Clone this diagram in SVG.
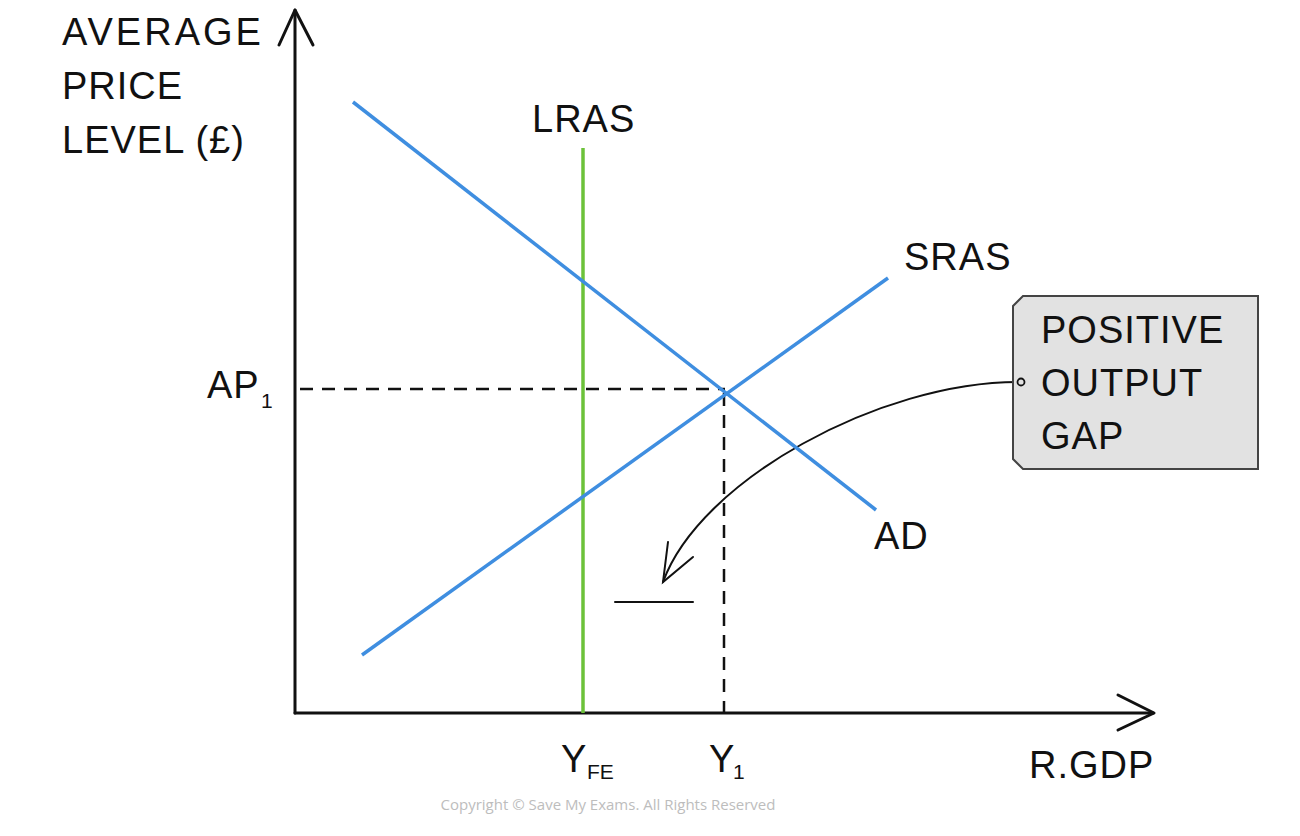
<svg xmlns="http://www.w3.org/2000/svg" width="1300" height="836" viewBox="0 0 1300 836">
<style>
.t{font-family:"Liberation Sans",Arial,sans-serif;fill:#111;font-size:38px;letter-spacing:1px}
.sub{font-family:"Liberation Sans",Arial,sans-serif;fill:#111;font-size:21px}
.ax{stroke:#111;stroke-width:3;fill:none;stroke-linecap:round;stroke-linejoin:round}
.dash{stroke:#111;stroke-width:2.5;stroke-dasharray:13 9;fill:none}
.blue{stroke:#3f8ee0;stroke-width:3.5;fill:none}
.thin{stroke:#111;stroke-width:2;fill:none;stroke-linecap:round}
</style>
<rect width="1300" height="836" fill="#fff"/>
<g id="axes">
<path class="ax" d="M295,713 V10"/>
<path class="ax" d="M279,45 L295,10 L313,45"/>
<path class="ax" d="M295,713 H1153"/>
<path class="ax" d="M1118,695 L1154,713 L1118,730"/>
<text class="t" x="62" y="45" style="letter-spacing:3px">AVERAGE</text>
<text class="t" x="62" y="99">PRICE</text>
<text class="t" x="62" y="153">LEVEL (£)</text>
<text class="t" x="1029" y="778">R.GDP</text>
</g>
<g id="connectors">
<path class="dash" d="M300,389 H725"/>
<path class="dash" d="M724,393 V713"/>
<path class="thin" d="M1018,382 C880,382 700,480 663,582"/>
<path class="thin" d="M668,542 L663,582 L693,557"/>
<path class="thin" d="M615,602 H693"/>
</g>
<g id="lras">
<path d="M583,148 V713" stroke="#6cc23a" stroke-width="3.5" fill="none"/>
<text class="t" x="532" y="132">LRAS</text>
</g>
<g id="ad">
<path class="blue" d="M353,102 L876,510"/>
<text class="t" x="874" y="549">AD</text>
</g>
<g id="sras">
<path class="blue" d="M362,655 L888,278"/>
<text class="t" x="904" y="270">SRAS</text>
</g>
<g id="ap1">
<text class="t" x="207" y="398">AP</text>
<text class="sub" x="261" y="408">1</text>
</g>
<g id="yfe">
<text class="t" x="561" y="772">Y</text>
<text class="sub" x="587" y="779">FE</text>
</g>
<g id="y1">
<text class="t" x="709" y="772">Y</text>
<text class="sub" x="733" y="779">1</text>
</g>
<g id="callout">
<path d="M1023,296 H1258 V469 H1023 L1013,459 V306 Z" fill="#e2e2e2" stroke="#444" stroke-width="2"/>
<circle cx="1021" cy="382" r="3.5" fill="#e2e2e2" stroke="#111" stroke-width="1.8"/>
<text class="t" x="1041" y="343">POSITIVE</text>
<text class="t" x="1041" y="396">OUTPUT</text>
<text class="t" x="1041" y="449">GAP</text>
</g>
<text x="608" y="810" text-anchor="middle" font-family="'Open Sans','Liberation Sans',sans-serif" font-size="15" fill="#bdbdbd">Copyright © Save My Exams. All Rights Reserved</text>
</svg>
